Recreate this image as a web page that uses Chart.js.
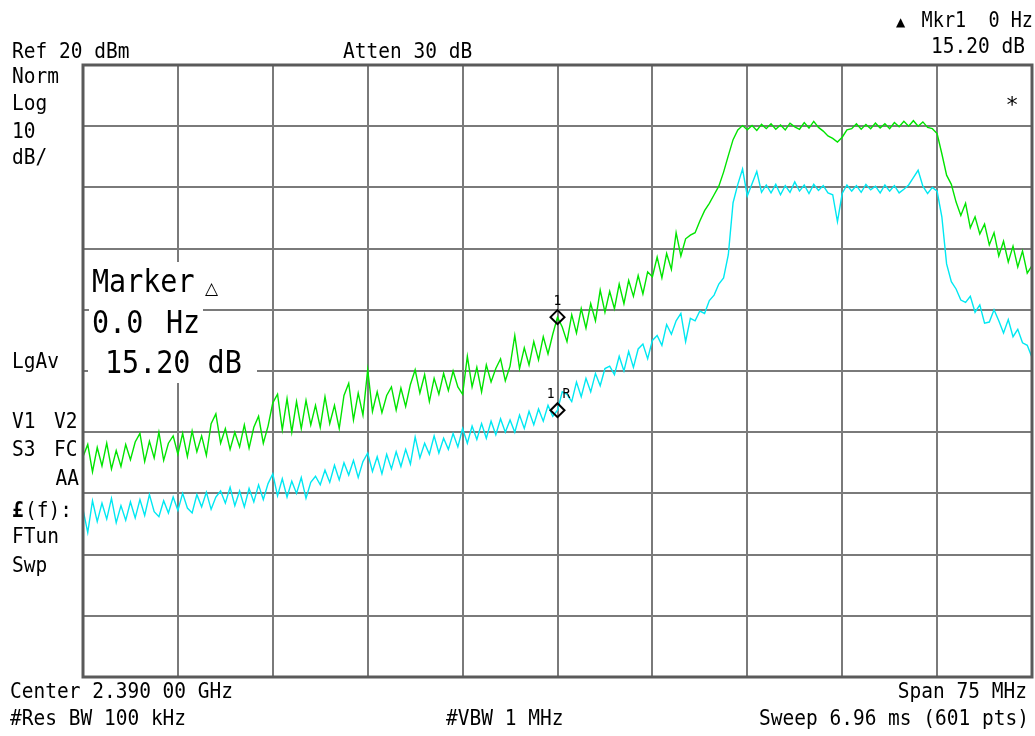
<!DOCTYPE html>
<html>
<head>
<meta charset="utf-8">
<script src="https://cdn.jsdelivr.net/npm/chart.js@4.4.1/dist/chart.umd.min.js"></script>
<style>
  html, body { margin: 0; padding: 0; background: #fff; }
  #wrap { position: relative; width: 1035px; height: 736px; }
</style>
</head>
<body>
<div id="wrap"><canvas id="sa"></canvas></div>
<script>
// Analyzer settings
const CENTER_MHZ = 2390;
const SPAN_MHZ = 75;
const REF_DBM = 20;
const DB_PER_DIV = 10;
const DIVS = 10;

// Trace 1 (green), dBm at 201 evenly spaced points
const greenDbm = [
  -44.0, -42.0, -46.5, -42.5, -45.5, -41.8, -46.0, -43.0, -45.6, -42.0,
  -44.5, -41.6, -40.2, -44.8, -41.5, -44.2, -40.0, -44.6, -41.8, -40.6,
  -43.6, -40.2, -44.0, -39.8, -43.2, -40.6, -43.8, -38.6, -37.0, -41.8,
  -39.4, -42.8, -40.0, -42.4, -38.8, -42.6, -39.2, -37.4, -41.8, -39.0,
  -35.2, -33.8, -39.6, -34.5, -40.0, -35.0, -39.4, -34.8, -38.8, -35.6,
  -39.2, -34.2, -38.6, -35.6, -39.4, -34.0, -32.0, -38.0, -33.6, -37.2,
  -29.8, -36.6, -33.4, -36.8, -34.0, -32.6, -36.4, -32.8, -35.8, -32.2,
  -29.8, -33.6, -30.6, -35.0, -31.2, -33.8, -30.4, -33.2, -30.0, -32.6,
  -33.8, -27.6, -32.6, -29.4, -33.4, -29.0, -31.8, -29.6, -28.0, -31.6,
  -29.2, -24.2, -29.6, -26.2, -29.0, -25.2, -28.2, -24.4, -27.2, -24.0,
  -21.2, -22.8, -25.2, -20.8, -23.8, -19.8, -23.0, -19.0, -21.8, -16.8,
  -20.4, -17.0, -19.8, -15.8, -19.0, -15.2, -17.8, -14.4, -17.4, -13.8,
  -14.6, -11.4, -14.8, -10.8, -13.4, -7.4, -11.2, -8.4, -7.8, -7.4,
  -5.5, -3.8, -2.6, -1.2, 0.2, 2.5, 5.2, 7.8, 9.4, 10.1,
  9.4, 10.1, 9.3, 10.3, 9.6, 10.4, 9.5, 10.2, 9.4, 10.5,
  9.9, 9.5, 10.6, 9.7, 10.8, 9.8, 9.2, 8.4, 8.0, 7.4,
  8.2, 9.4, 9.6, 10.4, 9.5, 10.3, 9.6, 10.5, 9.7, 10.4,
  9.6, 10.6, 9.9, 10.8, 10.0, 10.9, 10.0, 10.7, 9.8, 9.6,
  8.8, 5.5, 2.0, 0.5, -2.4, -4.6, -2.6, -6.6, -4.8, -7.6,
  -6.0, -9.4, -7.4, -11.2, -8.8, -12.2, -9.6, -13.0, -10.4, -14.0,
  -12.8
];

// Trace 2 (cyan), dBm
const cyanDbm = [
  -52.6, -56.4, -51.2, -54.6, -51.6, -54.2, -50.8, -54.8, -52.0, -54.4,
  -51.4, -54.0, -51.0, -53.6, -50.2, -53.0, -53.8, -51.2, -53.2, -50.6,
  -52.8, -50.0, -52.4, -53.2, -50.2, -52.2, -49.8, -52.6, -50.6, -49.6,
  -51.6, -49.0, -52.0, -49.6, -52.2, -49.2, -51.4, -48.6, -51.0, -48.4,
  -46.8, -50.4, -47.6, -50.6, -48.0, -50.0, -47.4, -50.8, -48.2, -47.2,
  -48.6, -46.2, -48.2, -45.4, -47.8, -45.0, -47.0, -44.6, -47.4, -44.8,
  -43.4, -46.4, -44.0, -46.8, -43.6, -46.0, -43.2, -45.6, -42.8, -45.2,
  -40.8, -44.2, -41.8, -43.6, -40.6, -43.4, -41.0, -42.8, -40.2, -42.4,
  -39.4, -41.8, -39.0, -41.2, -38.6, -41.0, -38.2, -40.4, -37.8, -40.0,
  -38.0, -40.0, -37.2, -39.4, -36.6, -38.8, -36.2, -38.2, -35.6, -37.4,
  -36.4, -33.4, -33.8, -35.0, -31.8, -34.2, -31.2, -33.4, -30.4, -32.4,
  -29.6, -29.2, -30.6, -27.6, -30.0, -26.8, -29.4, -26.4, -25.6, -28.0,
  -25.0, -24.2, -25.8, -22.4, -24.0, -21.8, -20.6, -25.2, -21.4, -21.8,
  -20.2, -20.6, -18.5, -17.6, -15.8, -14.8, -11.0, -2.5, 0.5, 3.0,
  -1.4, 0.6, 2.6, -0.8, 0.4, -0.9, 0.5, -1.2, 0.3, -0.8,
  0.9, -0.6, 0.4, -1.0, 0.5, -0.5, 0.3, -0.9, -1.2, -5.6,
  -1.0, 0.4, -0.6, 0.3, -0.8, 0.5, -0.4, 0.2, -0.9, 0.4,
  -0.6, 0.3, -0.9, -0.3, 0.4, 1.6, 2.8, 0.2, -1.0, 0.0,
  -0.6, -4.8, -12.5, -15.4, -16.6, -18.4, -18.8, -17.8, -20.4, -19.2,
  -22.2, -22.0, -20.0, -21.8, -23.8, -21.6, -24.4, -23.2, -25.4, -25.8,
  -27.8
];

// Marker 1 sits on the centre sweep point
const MARKER_INDEX = 100;

const GREEN = '#00e400';
const CYAN = '#00e8f2';
const GRID = '#7a7a7a';
const MONO = '"DejaVu Sans Mono", "Liberation Mono", monospace';

const startMhz = CENTER_MHZ - SPAN_MHZ / 2;
const stepMhz = SPAN_MHZ / (greenDbm.length - 1);
const freqs = greenDbm.map((_, i) => startMhz + i * stepMhz);
const toPoints = arr => arr.map((v, i) => ({ x: freqs[i], y: v }));

function label(ctx, str, x, y, opts = {}) {
  const size = opts.size || 19.5;
  ctx.save();
  ctx.translate(x, y);
  ctx.scale(1, opts.sy || 1.1);
  ctx.font = `${opts.bold ? 'bold ' : ''}${size}px ${MONO}`;
  ctx.textAlign = opts.align || 'left';
  ctx.textBaseline = 'alphabetic';
  ctx.fillStyle = '#000';
  ctx.fillText(str, 0, 0);
  ctx.restore();
}

// Screen annotations around the graticule
const annotations = {
  id: 'annotations',
  afterDraw(chart) {
    const ctx = chart.ctx;
    const a = chart.chartArea;
    const xs = chart.scales.x;

    // heavier frame
    ctx.save();
    ctx.strokeStyle = '#5a5a5a';
    ctx.lineWidth = 3;
    ctx.strokeRect(a.left, a.top, a.right - a.left, a.bottom - a.top);
    ctx.restore();

    // top line
    label(ctx, 'Ref 20 dBm', 12, 58);
    label(ctx, 'Atten 30 dB', 343, 58);
    ctx.save();
    ctx.font = `12px "DejaVu Sans", sans-serif`;
    ctx.fillStyle = '#000';
    ctx.fillText('\u25B2', 896, 26);
    ctx.restore();
    label(ctx, 'Mkr1  0 Hz', 1033, 27, { align: 'right', size: 18.5 });
    label(ctx, '15.20 dB', 1025, 53, { align: 'right' });

    // left column
    label(ctx, 'Norm', 12, 83);
    label(ctx, 'Log', 12, 110);
    label(ctx, '10', 12, 138);
    label(ctx, 'dB/', 12, 164);
    label(ctx, 'LgAv', 12, 368);
    label(ctx, 'V1', 12, 428);
    label(ctx, 'V2', 54, 428);
    label(ctx, 'S3', 12, 456);
    label(ctx, 'FC', 54, 456);
    label(ctx, 'AA', 79, 485, { align: 'right' });
    label(ctx, '\u00A3', 12, 517, { bold: true });
    label(ctx, '(f):', 25, 517);
    label(ctx, 'FTun', 12, 543);
    label(ctx, 'Swp', 12, 572);

    // marker readout box
    ctx.save();
    ctx.fillStyle = '#fff';
    ctx.fillRect(89, 262, 142, 38);
    ctx.fillRect(89, 300, 114, 40);
    ctx.fillRect(88, 340, 169, 43);
    ctx.restore();
    label(ctx, 'Marker', 92, 292, { size: 28.4, sy: 1.12 });
    ctx.save();
    ctx.font = `17px "DejaVu Sans", sans-serif`;
    ctx.fillStyle = '#000';
    ctx.fillText('\u25B3', 205, 294);
    ctx.restore();
    label(ctx, '0.0', 92, 333, { size: 28.4, sy: 1.15 });
    label(ctx, 'Hz', 166, 333, { size: 28.4, sy: 1.15 });
    label(ctx, '15.20 dB', 105, 373, { size: 28.4, sy: 1.15 });

    // marker tags
    const mx = xs.getPixelForValue(freqs[MARKER_INDEX]);
    label(ctx, '1', mx, 305, { size: 13, align: 'center', sy: 1.05 });
    label(ctx, '1 R', mx + 1, 398, { size: 13, align: 'center', sy: 1.05 });

    // asterisk
    label(ctx, '*', 1012, 112, { size: 22, align: 'center', sy: 1 });

    // bottom lines
    label(ctx, 'Center 2.390 00 GHz', 10, 698);
    label(ctx, 'Span 75 MHz', 1027, 698, { align: 'right' });
    label(ctx, '#Res BW 100 kHz', 10, 725);
    label(ctx, '#VBW 1 MHz', 446, 725);
    label(ctx, 'Sweep 6.96 ms (601 pts)', 1029, 725, { align: 'right' });
  }
};

const ctx = document.getElementById('sa').getContext('2d');
const chart = new Chart(ctx, {
  type: 'line',
  data: {
    datasets: [
      {
        label: 'Mkr1',
        data: [{ x: freqs[MARKER_INDEX], y: greenDbm[MARKER_INDEX] }],
        showLine: false, pointStyle: 'rectRot', pointRadius: 7,
        borderColor: '#000', borderWidth: 2, backgroundColor: 'rgba(0,0,0,0)'
      },
      {
        label: 'Mkr1 R',
        data: [{ x: freqs[MARKER_INDEX], y: cyanDbm[MARKER_INDEX] }],
        showLine: false, pointStyle: 'rectRot', pointRadius: 7,
        borderColor: '#000', borderWidth: 2, backgroundColor: 'rgba(0,0,0,0)'
      },
      { label: 'Trace 1', data: toPoints(greenDbm), borderColor: GREEN, borderWidth: 1.4, pointRadius: 0, tension: 0 },
      { label: 'Trace 2', data: toPoints(cyanDbm), borderColor: CYAN, borderWidth: 1.4, pointRadius: 0, tension: 0 }
    ]
  },
  options: {
    responsive: true,
    maintainAspectRatio: false,
    animation: false,
    // markers would otherwise add their own auto padding on the right
    layout: { autoPadding: false, padding: { left: 83, right: 3, top: 65, bottom: 59 } },
    plugins: { legend: { display: false }, tooltip: { enabled: false } },
    scales: {
      x: {
        type: 'linear',
        min: startMhz,
        max: startMhz + SPAN_MHZ,
        afterBuildTicks: s => {
          s.ticks = Array.from({ length: DIVS + 1 }, (_, k) => ({ value: startMhz + k * SPAN_MHZ / DIVS }));
        },
        ticks: { display: false },
        grid: { color: GRID, lineWidth: 2, drawTicks: false },
        border: { display: false }
      },
      y: {
        type: 'linear',
        min: REF_DBM - DB_PER_DIV * DIVS,
        max: REF_DBM,
        ticks: { display: false, stepSize: DB_PER_DIV },
        grid: { color: GRID, lineWidth: 2, drawTicks: false },
        border: { display: false }
      }
    }
  },
  plugins: [annotations]
});
</script>
</body>
</html>
